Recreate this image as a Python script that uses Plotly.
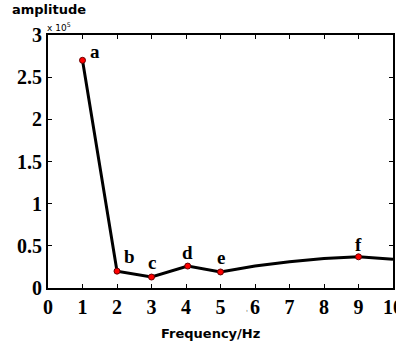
import plotly.graph_objects as go

freq = [1, 2, 3, 4.05, 5, 6, 7, 8, 9, 10]
amp = [2.70, 0.20, 0.13, 0.26, 0.19, 0.26, 0.31, 0.35, 0.37, 0.34]
mark_x = [1, 2, 3, 4.05, 5, 9]
mark_y = [2.70, 0.20, 0.13, 0.26, 0.19, 0.37]
mark_labels = ["a", "b", "c", "d", "e", "f"]
label_dx = [0.35, 0.35, 0.0, 0.0, 0.0, 0.0]
label_dy = [0.1, 0.17, 0.17, 0.16, 0.17, 0.15]
xticks = list(range(0, 11))
yticks = [0, 0.5, 1, 1.5, 2, 2.5, 3]
ytick_text = ["0", "0.5", "1", "1.5", "2", "2.5", "3"]

serif = "Liberation Serif"
sans = "DejaVu Sans"

fig = go.Figure()
fig.add_trace(go.Scatter(x=freq, y=amp, mode="lines",
                         line=dict(color="black", width=3), hoverinfo="skip"))
fig.add_trace(go.Scatter(x=mark_x, y=mark_y, mode="markers",
                         marker=dict(color="red", size=6, line=dict(color="#600", width=1))))

for x, y, t, dx, dy in zip(mark_x, mark_y, mark_labels, label_dx, label_dy):
    fig.add_annotation(x=x + dx, y=y + dy, text=f"<b>{t}</b>", showarrow=False,
                       font=dict(family=serif, size=19, color="black"),
                       xref="x", yref="y")

fig.add_annotation(x=-0.008, y=1.0, xref="paper", yref="paper", text="x 10<sup>5</sup>",
                   showarrow=False, xanchor="left", yanchor="bottom",
                   font=dict(family=sans, size=9, color="black"))
fig.add_annotation(x=-0.11, y=1.0, xref="paper", yref="paper", text="<b>amplitude</b>",
                   showarrow=False, xanchor="left", yanchor="bottom", yshift=16,
                   font=dict(family=sans, size=13, color="black"))
fig.add_annotation(x=0.47, y=-0.178, xref="paper", yref="paper", text="<b>Frequency/Hz</b>",
                   showarrow=False, xanchor="center", yanchor="middle",
                   font=dict(family=sans, size=13, color="black"))
fig.add_annotation(x=0.577, y=-0.1, xref="paper", yref="paper", text="'",
                   showarrow=False, xanchor="center", yanchor="middle",
                   font=dict(family=sans, size=7, color="#555"))

fig.update_layout(
    width=396, height=349,
    margin=dict(l=48, r=3, t=35, b=61),
    paper_bgcolor="white", plot_bgcolor="white",
    showlegend=False,
    xaxis=dict(range=[0, 10], tickvals=xticks, ticktext=[f"<b>{v}</b>" for v in xticks],
               ticks="inside", ticklen=4, tickcolor="black", tickwidth=1,
               showline=True, linecolor="black", linewidth=2, mirror="ticks",
               showgrid=False, zeroline=False, automargin=False,
               ticklabeloverflow="allow",
               tickfont=dict(family=serif, size=20, color="black")),
    yaxis=dict(range=[0, 3], tickvals=yticks, ticktext=[f"<b>{t}</b>" for t in ytick_text],
               ticks="inside", ticklen=4, tickcolor="black", tickwidth=1,
               showline=True, linecolor="black", linewidth=2, mirror="ticks",
               showgrid=False, zeroline=False, automargin=False,
               ticklabeloverflow="allow",
               tickfont=dict(family=serif, size=20, color="black")),
)

fig.write_html("out.html", config={"displayModeBar": False},
               post_script="document.body.style.margin='0';document.body.style.overflow='hidden';")
